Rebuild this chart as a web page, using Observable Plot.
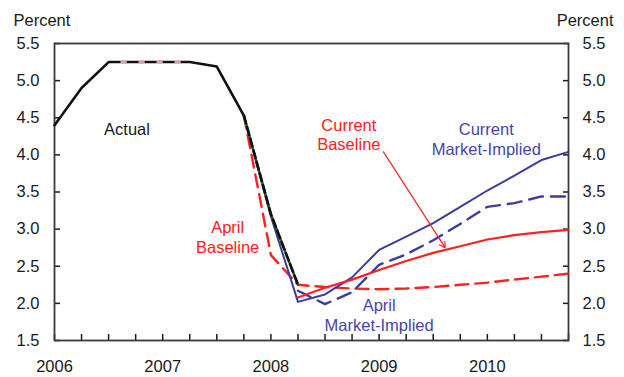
<!DOCTYPE html>
<html><head><meta charset="utf-8">
<script src="https://cdn.jsdelivr.net/npm/d3@7"></script>
<script src="https://cdn.jsdelivr.net/npm/@observablehq/plot@0.6"></script>
<style>body{margin:0;background:#fff} svg{display:block}</style>
</head><body><div id="chart"></div>
<script>
// ---- data ----
const quarters = [2006, 2006.25, 2006.5, 2006.75, 2007, 2007.25, 2007.5, 2007.75,
  2008, 2008.25, 2008.5, 2008.75, 2009, 2009.25, 2009.5, 2009.75,
  2010, 2010.25, 2010.5, 2010.75];
const yearTicks = [2006, 2007, 2008, 2009, 2010];
const yTicks = [1.5, 2, 2.5, 3, 3.5, 4, 4.5, 5, 5.5];

const actualQ = quarters.slice(0, 8);            // 2006Q1 - 2007Q4
const actual = [4.40, 4.90, 5.25, 5.25, 5.25, 5.25, 5.19, 4.53];
const recentQ = quarters.slice(7, 10);           // 2007Q4 - 2008Q2
const recentActual = [4.53, 3.20, 2.25];
const projQ = quarters.slice(7);                 // 2007Q4 - 2010Q4
const aprilBaseline = [4.53, 2.65, 2.25, 2.22, 2.20, 2.19, 2.20, 2.22, 2.25, 2.28, 2.32, 2.36, 2.40];
const currentMarket = [4.53, 3.17, 2.02, 2.12, 2.35, 2.72, 2.90, 3.08, 3.30, 3.52, 3.72, 3.93, 4.04];
const curQ = quarters.slice(9);                  // 2008Q2 - 2010Q4
const currentBaseline = [2.08, 2.21, 2.32, 2.45, 2.57, 2.68, 2.77, 2.86, 2.92, 2.96, 2.99];
const aprilMarket = [2.17, 1.99, 2.15, 2.52, 2.66, 2.85, 3.07, 3.30, 3.35, 3.44, 3.44];

const labelText = ["Actual", "Current\nBaseline", "Current\nMarket-Implied", "April\nBaseline", "April\nMarket-Implied"];
const labelX = [2006.67, 2008.72, 2009.99, 2007.60, 2009.0];
const labelY = [4.27, 4.06, 4.00, 2.68, 1.63];
const labelKind = ["actual", "red", "blue", "red", "blue"];

const arrowFrom = [2009.04, 4.04];
const arrowTo = [2009.61, 2.75];

// ---- build ----
const RED = "#ff2020", BLUE = "#3c3c9e", BLUE_T = "#4646aa", INK = "#1a1a1a";
const zip = (xs, ys) => xs.map((x, i) => ({x, y: ys[i]}));
const rowsActual = zip(actualQ, actual);
const rowsFlat = rowsActual.filter(d => d.x >= 2006.5 && d.x <= 2007.25);
const rowsRecent = zip(recentQ, recentActual);
const rowsAprB = zip(projQ, aprilBaseline);
const rowsCurM = zip(projQ, currentMarket);
const rowsCurB = zip(curQ, currentBaseline);
const rowsAprM = zip(curQ, aprilMarket);
const labels = labelText.map((t, i) => ({t, x: labelX[i], y: labelY[i],
  c: labelKind[i] === "red" ? RED : labelKind[i] === "blue" ? BLUE_T : INK}));
const arrows = [{x1: arrowFrom[0], y1: arrowFrom[1], x2: arrowTo[0], y2: arrowTo[1]}];

const FONT = "'Liberation Sans', Arial, sans-serif";
const FS = 16.5;

const chart = Plot.plot({
  width: 624, height: 377,
  marginLeft: 54, marginRight: 56, marginTop: 43, marginBottom: 37,
  x: {domain: [2006, 2010.75], label: null},
  y: {domain: [1.5, 5.5], label: null},
  style: {fontFamily: FONT, fontSize: FS + "px", background: "#fff", color: INK},
  marks: [
    // ticks (inside)
    Plot.axisX({ticks: quarters, tickSize: 6, dy: -6, tickFormat: () => "", color: INK, strokeWidth: 1.5}),
    Plot.axisX({ticks: yearTicks, tickSize: 0, tickPadding: 20, tickFormat: d => String(d), color: INK, fontSize: FS, fontFamily: FONT}),
    Plot.axisY({anchor: "left", ticks: yTicks, tickSize: 6, dx: 6, tickFormat: () => "", color: INK, strokeWidth: 1.5}),
    Plot.axisY({anchor: "left", ticks: yTicks, tickSize: 0, tickPadding: 15, tickFormat: d3.format(".1f"), color: INK, fontSize: FS, fontFamily: FONT}),
    Plot.axisY({anchor: "right", ticks: yTicks, tickSize: 6, dx: -6, tickFormat: () => "", color: INK, strokeWidth: 1.5}),
    Plot.axisY({anchor: "right", ticks: yTicks, tickSize: 0, tickPadding: 14, tickFormat: d3.format(".1f"), color: INK, fontSize: FS, fontFamily: FONT}),
    Plot.frame({stroke: "#3a3a3a", strokeWidth: 1.8}),
    // series
    Plot.line(rowsAprB, {x: "x", y: "y", stroke: RED, strokeWidth: 2.4, strokeDasharray: "13,7"}),
    Plot.line(rowsAprM, {x: "x", y: "y", stroke: BLUE, strokeWidth: 2.4, strokeDasharray: "14,8"}),
    Plot.line(rowsCurM, {x: "x", y: "y", stroke: BLUE, strokeWidth: 2}),
    Plot.line(rowsCurB, {x: "x", y: "y", stroke: RED, strokeWidth: 2.2}),
    Plot.line(rowsRecent, {x: "x", y: "y", stroke: "#2d6a2d", strokeWidth: 2.6}),
    Plot.line(rowsRecent, {x: "x", y: "y", stroke: "#111", strokeWidth: 2.6, strokeDasharray: "8,4"}),
    Plot.line(rowsActual, {x: "x", y: "y", stroke: "#111", strokeWidth: 2.6, strokeLinejoin: "round"}),
    Plot.line(rowsFlat, {x: "x", y: "y", stroke: "#d9a3a3", strokeWidth: 2.6, strokeDasharray: "4,14", strokeDashoffset: -13}),
    // annotations
    Plot.arrow(arrows, {x1: "x1", y1: "y1", x2: "x2", y2: "y2", stroke: RED, strokeWidth: 1.2, headLength: 8}),
    Plot.text(labels, {x: "x", y: "y", text: "t", fill: "c", lineAnchor: "bottom", textAnchor: "middle", lineHeight: 1.18, fontSize: FS, fontFamily: FONT}),
    Plot.text(["Percent"], {frameAnchor: "top-left", textAnchor: "start", lineAnchor: "bottom", dx: -41, dy: -18, fill: INK, fontSize: FS, fontFamily: FONT}),
    Plot.text(["Percent"], {frameAnchor: "top-right", textAnchor: "end", lineAnchor: "bottom", dx: 45, dy: -18, fill: INK, fontSize: FS, fontFamily: FONT})
  ]
});
document.getElementById("chart").append(chart);
</script>
</body></html>
